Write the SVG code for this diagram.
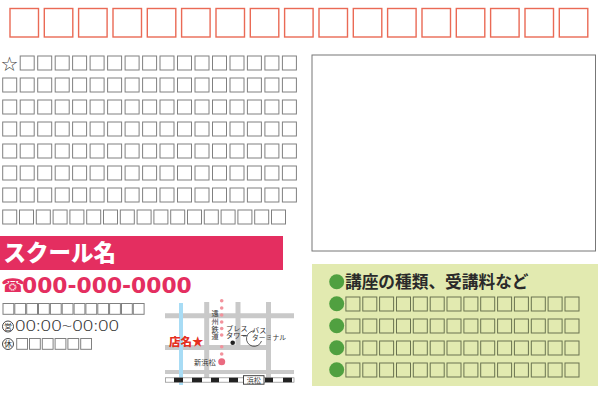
<svg xmlns="http://www.w3.org/2000/svg" width="612" height="398" viewBox="0 0 612 398">
<style>
.top{fill:none;stroke:#ea6a55;stroke-width:1.4}
.g{fill:none;stroke:#808080;stroke-width:1}
.gs{fill:none;stroke:#6a7350;stroke-width:1}
.jp{font-family:"Noto Sans CJK JP","Noto Sans",sans-serif}
.road{stroke:#c9c9c9;fill:none}
.dot{fill:#f2929c}
.m{font-size:7.2px;fill:#333}
</style>
<defs>
<rect id="t" class="top" width="28.5" height="28.5"/>
<rect id="s" class="g" width="14" height="14"/>
<rect id="sm" class="g" width="10.8" height="10.8"/>
<rect id="gs" class="gs" width="14" height="14"/>
</defs>
<rect width="612" height="398" fill="#fff"/>
<g id="top-boxes">
<use href="#t" x="10" y="8.5"/><use href="#t" x="44.3" y="8.5"/><use href="#t" x="78.6" y="8.5"/><use href="#t" x="113" y="8.5"/><use href="#t" x="147.3" y="8.5"/><use href="#t" x="181.6" y="8.5"/><use href="#t" x="216" y="8.5"/><use href="#t" x="250.3" y="8.5"/><use href="#t" x="284.6" y="8.5"/><use href="#t" x="319" y="8.5"/><use href="#t" x="353.3" y="8.5"/><use href="#t" x="387.6" y="8.5"/><use href="#t" x="422" y="8.5"/><use href="#t" x="456.3" y="8.5"/><use href="#t" x="490.6" y="8.5"/><use href="#t" x="525" y="8.5"/><use href="#t" x="559.3" y="8.5"/>
</g>
<g id="body-text">
<text x="0.5" y="71" font-size="20" fill="#444" font-family="'DejaVu Sans',sans-serif">☆</text>
<g id="r1"><use href="#s" x="20.2" y="56"/><use href="#s" x="37.7" y="56"/><use href="#s" x="55.2" y="56"/><use href="#s" x="72.6" y="56"/><use href="#s" x="90.1" y="56"/><use href="#s" x="107.6" y="56"/><use href="#s" x="125.1" y="56"/><use href="#s" x="142.6" y="56"/><use href="#s" x="160" y="56"/><use href="#s" x="177.5" y="56"/><use href="#s" x="195" y="56"/><use href="#s" x="212.5" y="56"/><use href="#s" x="230" y="56"/><use href="#s" x="247.4" y="56"/><use href="#s" x="264.9" y="56"/><use href="#s" x="282.4" y="56"/></g>
<g id="full"><use href="#s" x="2.7" y="78"/><use href="#r1" y="22"/></g>
<use href="#full" y="22"/><use href="#full" y="44"/><use href="#full" y="66"/><use href="#full" y="88"/><use href="#full" y="110"/>
<g id="r8"><use href="#s" x="2.7" y="210"/><use href="#s" x="19.5" y="210"/><use href="#s" x="36.3" y="210"/><use href="#s" x="53.1" y="210"/><use href="#s" x="69.9" y="210"/><use href="#s" x="86.7" y="210"/><use href="#s" x="103.5" y="210"/><use href="#s" x="120.3" y="210"/><use href="#s" x="137.1" y="210"/><use href="#s" x="153.9" y="210"/><use href="#s" x="170.7" y="210"/><use href="#s" x="187.5" y="210"/><use href="#s" x="204.3" y="210"/><use href="#s" x="221.1" y="210"/><use href="#s" x="237.9" y="210"/><use href="#s" x="254.7" y="210"/><use href="#s" x="271.5" y="210"/></g>
</g>
<g id="photo-box"><rect x="312" y="55" width="283.5" height="196" fill="#fff" stroke="#777" stroke-width="1"/></g>
<g id="school-name">
<rect x="0" y="236" width="283" height="34" fill="#e42e60"/>
<text x="3.5" y="261" font-size="22.5" font-weight="900" fill="#fff" class="jp">スクール名</text>
</g>
<g id="phone">
<text x="1" y="292" font-size="19" fill="#e42e60" font-family="'DejaVu Sans',sans-serif">☎</text>
<text x="22" y="293" font-size="21.8" font-weight="700" fill="#e42e60" font-family="'DejaVu Sans',sans-serif">000-000-0000</text>
</g>
<g id="info">
<g id="addr"><use href="#sm" x="3" y="303.5"/><use href="#sm" x="14.8" y="303.5"/><use href="#sm" x="26.7" y="303.5"/><use href="#sm" x="38.5" y="303.5"/><use href="#sm" x="50.4" y="303.5"/><use href="#sm" x="62.2" y="303.5"/><use href="#sm" x="74.1" y="303.5"/><use href="#sm" x="85.9" y="303.5"/><use href="#sm" x="97.8" y="303.5"/><use href="#sm" x="109.6" y="303.5"/><use href="#sm" x="121.5" y="303.5"/><use href="#sm" x="133.3" y="303.5"/></g>
<circle cx="8" cy="326.5" r="5.5" fill="#fff" stroke="#333" stroke-width="0.9"/>
<text x="8" y="329.5" font-size="8" text-anchor="middle" fill="#333" class="jp">営</text>
<text x="15" y="331" font-size="14" font-weight="300" fill="#333" font-family="'Noto Sans',sans-serif" textLength="104" lengthAdjust="spacingAndGlyphs">00:00~00:00</text>
<circle cx="8" cy="344" r="5.5" fill="#fff" stroke="#333" stroke-width="0.9"/>
<text x="8" y="347" font-size="8" text-anchor="middle" fill="#333" class="jp">休</text>
<g id="holiday"><use href="#sm" x="16.7" y="338.5"/><use href="#sm" x="29.5" y="338.5"/><use href="#sm" x="42.3" y="338.5"/><use href="#sm" x="55.1" y="338.5"/><use href="#sm" x="67.9" y="338.5"/><use href="#sm" x="80.7" y="338.5"/></g>
</g>
<g id="map">
<path class="road" stroke-width="5" d="M165 315.7H294M165 347.5H270M206.7 302V381M238 302V348M268.5 302V381"/>
<path class="road" stroke-width="4" d="M165 372H294"/>
<path d="M181 303V385" stroke="#a8dcf5" stroke-width="4" fill="none"/>
<rect x="165.5" y="377.8" width="128.5" height="4.4" fill="#fff" stroke="#888" stroke-width="0.7"/>
<path d="M174 380H183M192 380H202M211 380H219M229 380H238M265 380H273M283 380H292" stroke="#222" stroke-width="4.5" fill="none"/>
<g class="dot"><circle cx="221.7" cy="300.7" r="1.8"/><circle cx="221.7" cy="308" r="1.8"/><circle cx="221.7" cy="315" r="1.8"/><circle cx="221.7" cy="322" r="1.8"/><circle cx="221.7" cy="328.5" r="1.8"/><circle cx="221.7" cy="335" r="1.8"/><circle cx="221.7" cy="346.7" r="1.8"/><circle cx="221.7" cy="354" r="1.8"/></g>
<circle cx="221.7" cy="361.7" r="3.5" fill="#ea6a80"/>
<text x="194" y="364.5" class="jp m">新浜松</text>
<text class="jp m" x="215" y="310" writing-mode="vertical-rl" letter-spacing="0.5">遠州鉄道</text>
<text class="jp m" x="226" y="330.6">プレス</text><text class="jp m" x="226" y="338.3">タワー</text>
<circle cx="232.7" cy="342.7" r="2.3" fill="#222"/>
<path d="M243 336H246" stroke="#333" stroke-width="0.7" fill="none"/>
<path d="M255 331A7.7 7.7 0 1 0 261.5 341" stroke="#333" stroke-width="0.8" fill="none"/>
<text class="jp m" x="252" y="332.5">バス</text><text class="jp" font-size="6.8" fill="#333" x="252" y="340.3">ターミナル</text>
<text x="169" y="345.5" font-size="11.5" font-weight="900" fill="#e5301f" class="jp">店名★</text>
<rect x="243.5" y="375.7" width="20.5" height="8.5" fill="#fff" stroke="#333" stroke-width="0.9"/>
<text x="253.7" y="382.8" text-anchor="middle" class="jp" font-size="7" fill="#333">浜松</text>
</g>
<g id="course-panel">
<rect x="312" y="264" width="286" height="122" fill="#e2eab0"/>
<circle cx="336.7" cy="281.7" r="7.5" fill="#50a040"/>
<text x="345" y="288" font-size="16.7" font-weight="700" fill="#2a2a2a" class="jp">講座の種類、受講料など</text>
<g id="gr1"><circle cx="336.7" cy="303.7" r="7.5" fill="#50a040"/><use href="#gs" x="345.9" y="297"/><use href="#gs" x="362.8" y="297"/><use href="#gs" x="379.6" y="297"/><use href="#gs" x="396.5" y="297"/><use href="#gs" x="413.3" y="297"/><use href="#gs" x="430.2" y="297"/><use href="#gs" x="447" y="297"/><use href="#gs" x="463.9" y="297"/><use href="#gs" x="480.7" y="297"/><use href="#gs" x="497.6" y="297"/><use href="#gs" x="514.4" y="297"/><use href="#gs" x="531.3" y="297"/><use href="#gs" x="548.1" y="297"/><use href="#gs" x="565" y="297"/></g>
<use href="#gr1" y="22"/><use href="#gr1" y="44"/><use href="#gr1" y="66"/>
</g>
</svg>
